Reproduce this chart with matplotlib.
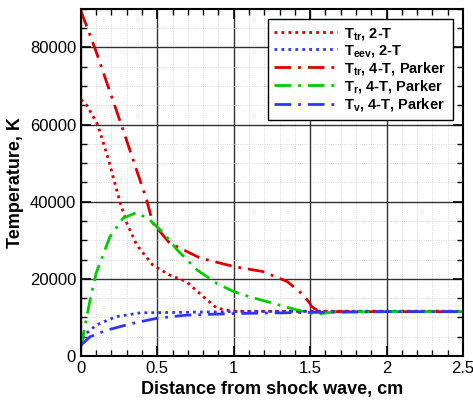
import matplotlib.pyplot as plt
from matplotlib.ticker import MultipleLocator

plt.rcParams['font.family'] = ['Liberation Sans', 'DejaVu Sans']
plt.rcParams['mathtext.fontset'] = 'custom'
plt.rcParams['mathtext.rm'] = 'Liberation Sans:bold'
plt.rcParams['mathtext.it'] = 'Liberation Sans:bold'
plt.rcParams['mathtext.bf'] = 'Liberation Sans:bold'

# T_tr, 2-T
x_ttr2 = [0.0, 0.037, 0.11, 0.18, 0.255, 0.3, 0.365, 0.47, 0.58, 0.69, 0.8, 0.89, 0.995, 1.2, 1.5, 2.0, 2.5]
y_ttr2 = [66500, 65100, 60000, 51000, 40000, 34500, 28800, 23600, 21000, 19300, 15400, 12400, 11600, 11600, 11600, 11600, 11600]
# T_eev, 2-T
x_teev2 = [0.0, 0.01, 0.037, 0.1, 0.23, 0.39, 0.6, 1.0, 1.5, 2.0, 2.5]
y_teev2 = [2800, 4500, 5900, 8000, 10200, 11200, 11300, 11500, 11600, 11600, 11600]
# T_tr, 4-T Parker
x_ttr4 = [0.0, 0.1, 0.276, 0.43, 0.47, 0.58, 0.78, 1.0, 1.19, 1.35, 1.43, 1.49, 1.51, 1.56, 2.0, 2.5]
y_ttr4 = [89500, 78900, 58600, 40500, 34500, 29300, 25400, 23200, 21900, 19300, 16700, 14100, 12800, 11500, 11500, 11500]
# T_r, 4-T Parker
x_tr4 = [0.0, 0.01, 0.026, 0.06, 0.1, 0.19, 0.275, 0.365, 0.45, 0.54, 0.63, 0.76, 0.89, 1.0, 1.1, 1.37, 1.5, 1.55, 1.65, 2.0, 2.5]
y_tr4 = [2500, 4100, 7600, 14500, 21500, 30900, 35700, 37200, 35300, 31900, 27500, 22300, 18800, 16700, 15400, 12400, 11100, 10900, 11400, 11500, 11500]
# T_v, 4-T Parker
x_tv4 = [0.0, 0.06, 0.17, 0.34, 0.5, 0.69, 1.0, 1.5, 2.0, 2.5]
y_tv4 = [2800, 5000, 6700, 8500, 9800, 10600, 11000, 11300, 11500, 11500]

fig = plt.figure(figsize=(4.73, 4.05), dpi=100)
ax = fig.add_axes([0.171, 0.121, 0.808, 0.857])

ax.plot(x_ttr2, y_ttr2, color='#dd0000', lw=2, ls=(0, (1, 1.5)), label=r'T$_{tr}$, 2-T')
ax.plot(x_teev2, y_teev2, color='#3333ff', lw=2, ls=(0, (1, 1.5)), label=r'T$_{eev}$, 2-T')
ax.plot(x_ttr4, y_ttr4, color='#dd0000', lw=2, ls=(0, (6, 2.5, 1, 2.5)), label=r'T$_{tr}$, 4-T, Parker')
ax.plot(x_tr4, y_tr4, color='#00cc00', lw=2, ls=(0, (6, 2.5, 1, 2.5)), label=r'T$_{r}$, 4-T, Parker')
ax.plot(x_tv4, y_tv4, color='#3333ff', lw=2, ls=(0, (6, 2.5, 1, 2.5)), label=r'T$_{v}$, 4-T, Parker')

ax.set_xlim(0, 2.5)
ax.set_ylim(0, 90000)
ax.xaxis.set_major_locator(MultipleLocator(0.5))
ax.xaxis.set_minor_locator(MultipleLocator(0.1))
ax.yaxis.set_major_locator(MultipleLocator(20000))
ax.yaxis.set_minor_locator(MultipleLocator(5000))
ax.set_xticks([0, 0.5, 1, 1.5, 2, 2.5], ['0', '0.5', '1', '1.5', '2', '2.5'])

ax.grid(True, which='major', color='#333333', lw=1)
ax.grid(True, which='minor', color='#cccccc', lw=0.6, ls=':')
ax.set_axisbelow(True)
ax.tick_params(which='both', direction='in', top=True, right=True, labelsize=12)
ax.tick_params(which='major', length=7, width=1.2)
ax.tick_params(which='minor', length=4, width=1)
for s in ax.spines.values():
    s.set_linewidth(1.5)

ax.set_xlabel('Distance from shock wave, cm', fontsize=13, fontweight='bold', labelpad=4)
ax.set_ylabel('Temperature, K', fontsize=13, fontweight='bold', labelpad=4)

leg = ax.legend(loc='upper right', bbox_to_anchor=(0.974, 0.971), borderaxespad=0, fancybox=False,
                edgecolor='black', handlelength=4.3, handletextpad=0.5,
                prop={'weight': 'bold', 'size': 10.5}, labelspacing=0.08,
                borderpad=0.45, framealpha=1)
leg.get_frame().set_linewidth(1)

plt.savefig('out.png', dpi=100)
